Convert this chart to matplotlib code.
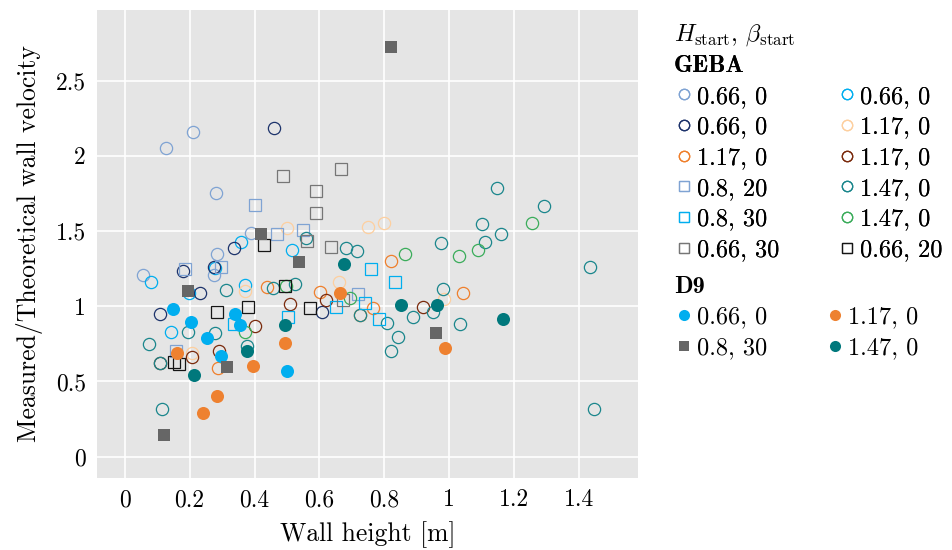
"""
Measured vs theoretical wall velocity for GEBA and D9 runs, against wall height.
"""

import os

import matplotlib

matplotlib.use("Agg")
import matplotlib.pyplot as plt
from matplotlib.font_manager import FontProperties
from matplotlib.lines import Line2D
from matplotlib.ticker import FuncFormatter

# ---- data (wall height [m], velocity ratio [-]) ----
geba_a_x = [0.126, 0.210, 0.281, 0.057, 0.389, 0.285, 0.276]
geba_a_y = [2.055, 2.160, 1.750, 1.210, 1.486, 1.346, 1.208]
geba_b_x = [0.357, 0.080, 0.515, 0.371, 0.142, 0.199, 0.279]
geba_b_y = [1.430, 1.164, 1.374, 1.142, 0.827, 1.086, 1.255]
geba_c_x = [0.461, 0.337, 0.276, 0.180, 0.233, 0.110, 0.607]
geba_c_y = [2.186, 1.386, 1.263, 1.235, 1.090, 0.947, 0.960]
geba_d_x = [0.501, 0.749, 0.799, 0.371, 0.208, 0.660, 0.984]
geba_d_y = [1.521, 1.529, 1.552, 1.102, 0.692, 1.164, 1.047]
geba_e_x = [0.438, 0.602, 0.724, 0.287, 0.820, 0.766, 1.042]
geba_e_y = [1.126, 1.093, 0.944, 0.588, 1.303, 0.987, 1.086]
geba_f_x = [0.509, 0.619, 0.402, 0.291, 0.206, 0.110, 0.918]
geba_f_y = [1.015, 1.042, 0.869, 0.703, 0.665, 0.625, 0.993]
geba_g_x = [0.400, 0.468, 0.549, 0.186, 0.296, 0.158, 0.720]
geba_g_y = [1.676, 1.481, 1.507, 1.246, 1.263, 0.703, 1.082]
geba_h_x = [0.759, 0.833, 0.740, 0.784, 0.502, 0.652, 0.336]
geba_h_y = [1.246, 1.164, 1.024, 0.913, 0.931, 0.993, 0.882]
geba_i_x = [1.146, 1.291, 1.100, 1.160, 1.110, 0.975, 1.434, 0.979, 0.951, 0.889,
            1.034, 0.807, 0.841, 0.820, 0.717, 0.683, 0.558, 0.311, 0.456, 0.525,
            0.194, 0.278, 0.075, 0.109, 0.376, 0.116, 1.444, 0.724]
geba_i_y = [1.785, 1.669, 1.547, 1.481, 1.426, 1.423, 1.259, 1.115, 0.964, 0.927,
            0.884, 0.887, 0.794, 0.703, 1.368, 1.386, 1.452, 1.108, 1.124, 1.148,
            0.831, 0.820, 0.749, 0.625, 0.738, 0.320, 0.319, 0.944]
geba_j_x = [1.253, 0.864, 1.029, 1.088, 0.496, 0.694, 0.371]
geba_j_y = [1.552, 1.348, 1.334, 1.374, 1.137, 1.053, 0.831]
geba_k_x = [0.666, 0.487, 0.590, 0.589, 0.563, 0.635, 0.674]
geba_k_y = [1.911, 1.868, 1.769, 1.618, 1.436, 1.396, 1.042]
geba_l_x = [0.428, 0.284, 0.380, 0.495, 0.570, 0.153, 0.168]
geba_l_y = [1.410, 0.964, 0.993, 1.137, 0.987, 0.632, 0.614]

d9_a_x = [0.149, 0.203, 0.253, 0.341, 0.356, 0.298, 0.501]
d9_a_y = [0.980, 0.898, 0.789, 0.947, 0.874, 0.672, 0.568]
d9_b_x = [0.162, 0.394, 0.495, 0.285, 0.242, 0.663, 0.987]
d9_b_y = [0.687, 0.603, 0.758, 0.404, 0.293, 1.091, 0.721]
d9_c_x = [0.821, 0.420, 0.538, 0.195, 0.314, 0.120, 0.959]
d9_c_y = [2.726, 1.481, 1.297, 1.104, 0.598, 0.144, 0.820]
d9_d_x = [0.675, 0.494, 0.378, 0.214, 0.850, 0.962, 1.165]
d9_d_y = [1.279, 0.876, 0.703, 0.541, 1.009, 1.007, 0.913]

geba_labels = ["0.66, 0", "0.66, 0", "0.66, 0", "1.17, 0", "1.17, 0", "1.17, 0",
               "0.8, 20", "1.47, 0", "0.8, 30", "1.47, 0", "0.66, 30", "0.66, 20"]
d9_labels = ["0.66, 0", "1.17, 0", "0.8, 30", "1.47, 0"]

x_ticks = [0, 0.2, 0.4, 0.6, 0.8, 1.0, 1.2, 1.4]
y_ticks = [0, 0.5, 1.0, 1.5, 2.0, 2.5]

# (x, y, label, marker, colour, filled) in legend order (row-major, 2 columns)
GEBA_SERIES = [
    (geba_a_x, geba_a_y, geba_labels[0], "o", "#7fa3d3", False),
    (geba_b_x, geba_b_y, geba_labels[1], "o", "#00aeef", False),
    (geba_c_x, geba_c_y, geba_labels[2], "o", "#1d336b", False),
    (geba_d_x, geba_d_y, geba_labels[3], "o", "#fdcf9f", False),
    (geba_e_x, geba_e_y, geba_labels[4], "o", "#ef7f2c", False),
    (geba_f_x, geba_f_y, geba_labels[5], "o", "#7a2a0c", False),
    (geba_g_x, geba_g_y, geba_labels[6], "s", "#7fa3d3", False),
    (geba_i_x, geba_i_y, geba_labels[7], "o", "#1a868c", False),
    (geba_h_x, geba_h_y, geba_labels[8], "s", "#00aeef", False),
    (geba_j_x, geba_j_y, geba_labels[9], "o", "#3aac5a", False),
    (geba_k_x, geba_k_y, geba_labels[10], "s", "#767676", False),
    (geba_l_x, geba_l_y, geba_labels[11], "s", "#151515", False),
]
D9_SERIES = [
    (d9_a_x, d9_a_y, d9_labels[0], "o", "#00aeef", True),
    (d9_b_x, d9_b_y, d9_labels[1], "o", "#ee8130", True),
    (d9_c_x, d9_c_y, d9_labels[2], "s", "#666666", True),
    (d9_d_x, d9_d_y, d9_labels[3], "o", "#00787c", True),
]

LEGEND_X = 0.7070


def draw_series(ax, series):
    handles = []
    for x, y, label, marker, color, filled in series:
        size = 8.8 if marker == "o" else 8.0
        if filled:
            style = dict(markerfacecolor=color, markeredgecolor=color, markeredgewidth=0.0)
            size += 0.6
        else:
            style = dict(markerfacecolor="none", markeredgecolor=color, markeredgewidth=0.9)
        ax.plot(x, y, linestyle="none", marker=marker, markersize=size, **style)
        handles.append(Line2D([0], [0], linestyle="none", marker=marker,
                              markersize=size * 0.85, label=label, **style))
    return handles


def reorder_rowmajor(handles, ncol=2):
    # matplotlib fills legends column by column; the reference reads row by row
    return [h for c in range(ncol) for h in handles[c::ncol]]


def main():
    plt.rcParams["font.family"] = "serif"
    plt.rcParams["font.serif"] = ["cmr10"]
    plt.rcParams["mathtext.fontset"] = "cm"
    plt.rcParams["axes.unicode_minus"] = False

    bold_path = os.path.join(matplotlib.get_data_path(), "fonts", "ttf", "cmb10.ttf")
    bold = FontProperties(fname=bold_path, size=17.5)

    fig = plt.figure(figsize=(9.53, 5.5), dpi=100)
    ax = fig.add_axes([0.1018, 0.1309, 0.5677, 0.8509])
    ax.set_facecolor("#e5e5e5")
    for spine in ax.spines.values():
        spine.set_visible(False)

    geba_handles = draw_series(ax, GEBA_SERIES)
    d9_handles = draw_series(ax, D9_SERIES)

    ax.set_xlim(-0.085, 1.581)
    ax.set_ylim(-0.142, 2.97)
    ax.set_xticks(x_ticks)
    ax.set_yticks(y_ticks)
    fmt = FuncFormatter(lambda v, _: f"{v:g}")
    ax.xaxis.set_major_formatter(fmt)
    ax.yaxis.set_major_formatter(fmt)
    ax.tick_params(length=0, labelsize=17, pad=8)
    ax.grid(True, color="white", linewidth=1.2)
    ax.set_axisbelow(True)

    ax.set_xlabel("Wall height [m]", fontsize=18.5, labelpad=7)
    ax.set_ylabel("Measured/Theoretical wall velocity", fontsize=18.5, labelpad=9)

    fig.text(LEGEND_X, 0.936, r"$H_\mathrm{start}$, $\beta_\mathrm{start}$",
             fontsize=17.5, ha="left", va="center")

    common = dict(ncol=2, frameon=False, fontsize=17.5, handlelength=0.85,
                  handletextpad=0.1, columnspacing=2.37, labelspacing=0.35,
                  borderaxespad=0.0, borderpad=0.0, alignment="left",
                  title_fontproperties=bold, loc="upper left")
    leg1 = fig.legend(handles=reorder_rowmajor(geba_handles), title="GEBA",
                      bbox_to_anchor=(LEGEND_X, 0.8995), **common)
    fig.add_artist(leg1)
    fig.legend(handles=reorder_rowmajor(d9_handles), title="D9",
               bbox_to_anchor=(LEGEND_X, 0.498), **common)

    fig.savefig("out.png", dpi=100)
    plt.close(fig)


if __name__ == "__main__":
    main()
